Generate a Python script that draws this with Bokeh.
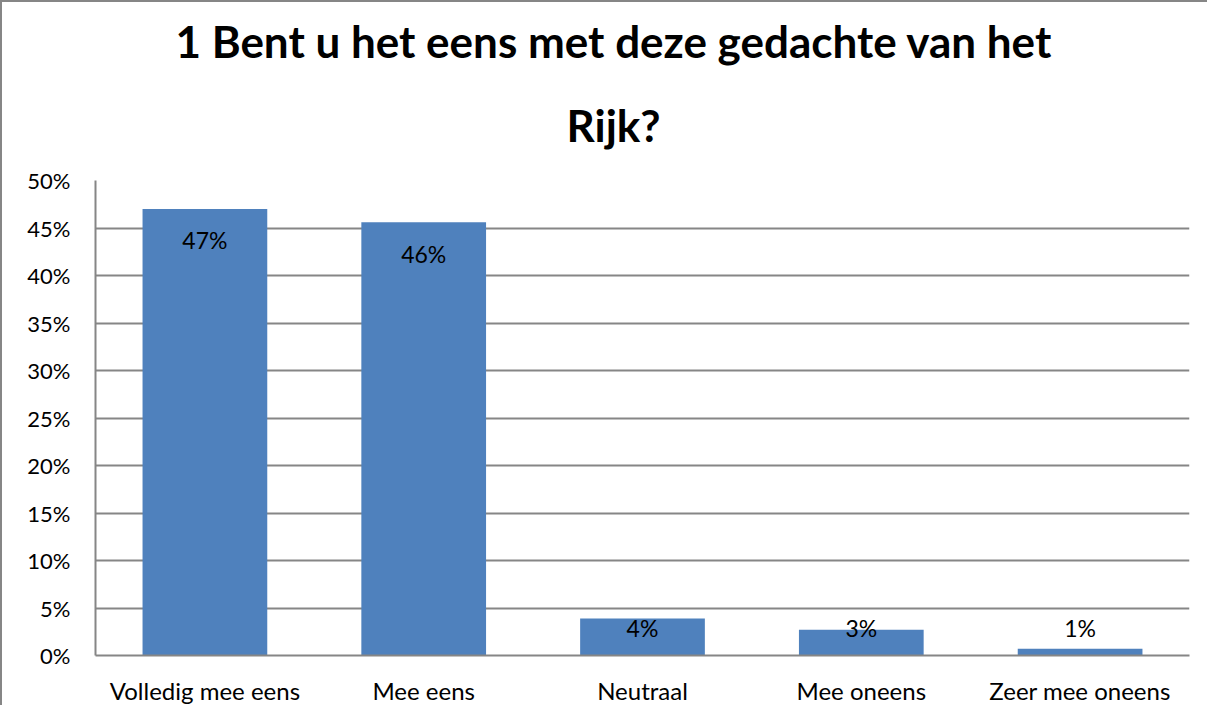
from bokeh.plotting import figure
from bokeh.models import (Range1d, FactorRange, FixedTicker, NumeralTickFormatter,
                          ColumnDataSource, Title)
from bokeh.core.properties import value
from bokeh.embed import file_html
from bokeh.resources import INLINE

categories = ["Volledig mee eens", "Mee eens", "Neutraal", "Mee oneens", "Zeer mee oneens"]
shares = [0.470, 0.456, 0.039, 0.027, 0.007]
share_labels = ["47%", "46%", "4%", "3%", "1%"]
y_ticks = [0, 0.05, 0.10, 0.15, 0.20, 0.25, 0.30, 0.35, 0.40, 0.45, 0.50]
title_lines = ["1 Bent u het eens met deze gedachte van het", "Rijk?"]

FONT = "Lato"
GRID = "#868686"
BAR = "#4F81BD"

W, H = 1207, 705
p = figure(width=W, height=H, output_backend="svg", toolbar_location=None,
           x_range=FactorRange(*categories, range_padding=0),
           y_range=Range1d(0, 0.5),
           min_border_left=93, min_border_right=20, min_border_top=178, min_border_bottom=52,
           tools="",
           styles={"border-left": "2px solid #868686", "border-top": "2px solid #868686"})
p.outline_line_color = None
p.background_fill_color = "white"
p.border_fill_color = "white"

label_y = [max(v - 0.033, 0.0285) for v in shares]
src = ColumnDataSource(dict(cat=categories, share=shares, lab=share_labels, ly=label_y))
p.vbar(x="cat", top="share", bottom=0, width=0.57, source=src, fill_color=BAR, line_color=None)
p.text(x="cat", y="ly", text="lab", source=src, text_align="center", text_baseline="middle",
       text_font=value(FONT), text_font_size="23px", text_color="black")

p.yaxis.ticker = FixedTicker(ticks=y_ticks)
p.yaxis.formatter = NumeralTickFormatter(format="0%")
for ax in (p.xaxis[0], p.yaxis[0]):
    ax.axis_line_color = GRID
    ax.axis_line_width = 2
    ax.major_tick_line_color = None
    ax.minor_tick_line_color = None
    ax.major_tick_out = 0
    ax.major_tick_in = 0
    ax.minor_tick_out = 0
    ax.minor_tick_in = 0
    ax.major_label_text_font = FONT
    ax.major_label_text_color = "black"
p.yaxis.major_label_text_font_size = "22px"
p.xaxis.major_label_text_font_size = "24px"
p.yaxis.major_label_standoff = 25
p.xaxis.major_label_standoff = 20

p.xgrid.grid_line_color = None
p.ygrid.grid_line_color = GRID
p.ygrid.grid_line_width = 2
p.ygrid.ticker = FixedTicker(ticks=y_ticks)

# title lines: second line nearest the frame is added first
title_offsets = [80, 471]
title_standoffs = [0, 60]
for t, off, so in reversed(list(zip(title_lines, title_offsets, title_standoffs))):
    p.add_layout(Title(text=t, align="left", offset=off, text_font=FONT,
                       text_font_style="bold", text_font_size="44px",
                       text_line_height=0.8,
                       text_color="black", standoff=so), "above")

open("out.html", "w").write(file_html(p, INLINE))
